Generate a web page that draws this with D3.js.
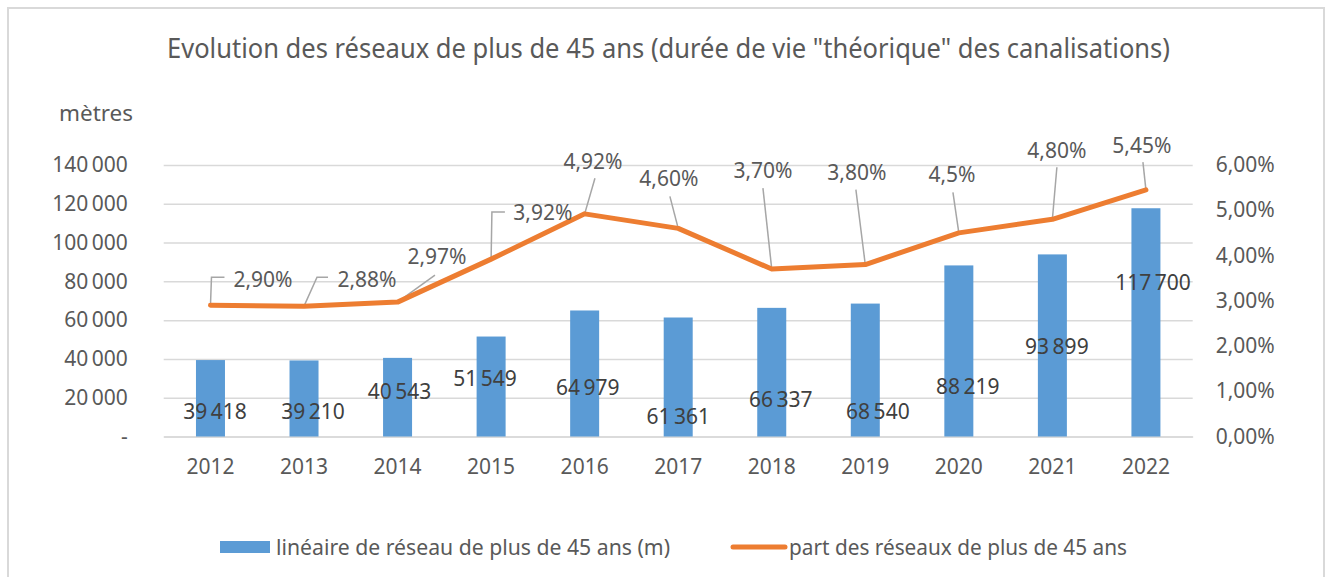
<!DOCTYPE html>
<html><head><meta charset="utf-8">
<script src="https://cdn.jsdelivr.net/npm/d3@7"></script>
<style>
html,body{margin:0;padding:0;background:#fff;}
text{font-family:"Noto Sans",sans-serif;fill:#595959;}
</style></head>
<body>
<svg id="chart" width="1332" height="577"></svg>
<script>
// ---- data ----
const title = "Evolution des réseaux de plus de 45 ans (durée de vie \"théorique\" des canalisations)";
const years = ["2012","2013","2014","2015","2016","2017","2018","2019","2020","2021","2022"];
const lengths = [39418, 39210, 40543, 51549, 64979, 61361, 66337, 68540, 88219, 93899, 117700];
const shares = [2.90, 2.88, 2.97, 3.92, 4.92, 4.60, 3.70, 3.80, 4.5, 4.80, 5.45];
const shareLabels = ["2,90%","2,88%","2,97%","3,92%","4,92%","4,60%","3,70%","3,80%","4,5%","4,80%","5,45%"];
const leftTicks = [0, 20000, 40000, 60000, 80000, 100000, 120000, 140000];
const rightTicks = [0, 1, 2, 3, 4, 5, 6];
const legendLabels = ["linéaire de réseau de plus de 45 ans (m)", "part des réseaux de plus de 45 ans"];
const yUnit = "mètres";

// ---- layout (label placement, px) ----
const barLabelNudge = [[4.5,-25],[9,-25],[2,-45],[-6,-58],[3,-49],[0,-20],[9,-37],[12.6,-25],[9,-50],[4.5,-90],[7,-154]];
const shareLabelNudge = [[52.5,-26],[63,-27],[39.4,-45],[51.8,-46],[8.3,-52.6],[-9.3,-50],[-8.8,-98],[-8.4,-92],[-6.9,-58.6],[4.5,-69],[-4,-44.7]];
const leaderEnd = [[1,-28,13],[13,-29,11],[37.4,-27,0],[0.8,-47,13],[10.3,-35.6,0],[-8.3,-32,0],[-8.8,-81,0],[-9.4,-75,0],[-5.9,-40.6,0],[4.5,-52,0],[-3,-27.7,0]];

(function(){
const svg = d3.select("#chart");
const pL = 163.7, pR = 1192.7, pT = 165, pB = 436.5;
const blue = "#5B9BD5", orange = "#ED7D31", grid = "#D9D9D9";
const FS = 21;

svg.append("rect").attr("x",8).attr("y",8).attr("width",1316).attr("height",620)
  .attr("fill","#fff").attr("stroke","#D9D9D9").attr("stroke-width",2);

const x = d3.scaleBand().domain(years).range([pL, pR]).paddingInner(0.69).paddingOuter(0.345);
const yL = d3.scaleLinear().domain([0,140000]).range([pB, pT]);
const yR = d3.scaleLinear().domain([0,6]).range([pB, pT]);
const cx = d => x(d) + x.bandwidth()/2;

function squeeze(sel, w){
  sel.attr("textLength", w).attr("lengthAdjust","spacingAndGlyphs");
}

// title
svg.append("text").attr("x",167).attr("y",57.5)
  .attr("font-size",27.5).text(title).call(squeeze, 1003);

svg.append("text").attr("x",59).attr("y",120.5)
  .attr("font-size",22).text(yUnit).call(squeeze, 74);

// left axis + gridlines
const fmtL = v => v === 0 ? "-" : d3.format(",")(v).replace(/,/g, "\u2009");
const gL = svg.append("g").attr("transform",`translate(${pL},0)`)
  .call(d3.axisLeft(yL).tickValues(leftTicks).tickSize(-(pR-pL)).tickPadding(36).tickFormat(fmtL));
gL.select(".domain").remove();
gL.selectAll(".tick line").attr("stroke",grid).attr("stroke-width",1.5);
gL.selectAll(".tick text").attr("font-size",FS).attr("font-family","Noto Sans").attr("fill","#595959");

// right axis
const fmtR = v => d3.format(".2f")(v).replace(".", ",") + "%";
const gR = svg.append("g").attr("transform",`translate(${pR},0)`)
  .call(d3.axisRight(yR).tickValues(rightTicks).tickSize(0).tickPadding(23).tickFormat(fmtR));
gR.select(".domain").remove();
gR.selectAll(".tick text").attr("font-size",FS).attr("font-family","Noto Sans").attr("fill","#595959");

// x axis
const gX = svg.append("g").attr("transform",`translate(0,${pB})`)
  .call(d3.axisBottom(x).tickSize(0).tickPadding(23));
gX.select(".domain").attr("stroke",grid).attr("stroke-width",1.5);
gX.selectAll(".tick text").attr("font-size",FS).attr("font-family","Noto Sans").attr("fill","#595959");

// bars
svg.append("g").selectAll("rect").data(lengths).join("rect")
  .attr("x",(d,i)=>x(years[i])).attr("width",x.bandwidth())
  .attr("y",d=>yL(d)).attr("height",d=>pB-yL(d)).attr("fill",blue);

// bar labels
const fmtV = v => d3.format(",")(v).replace(/,/g, "\u2009");
svg.append("g").selectAll("text").data(lengths).join("text")
  .attr("x",(d,i)=>cx(years[i]) + barLabelNudge[i][0])
  .attr("y",(d,i)=>pB + barLabelNudge[i][1])
  .attr("dy","0.35em").attr("text-anchor","middle").attr("font-size",FS).style("fill","#404040")
  .text(fmtV);

// leader lines
svg.append("g").selectAll("path").data(shares).join("path")
  .attr("d",(d,i)=>{
    const px = cx(years[i]), py = yR(d), e = leaderEnd[i];
    const ex = px + e[0], ey = py + e[1];
    return `M${px},${py}L${ex},${ey}` + (e[2] ? `L${ex+e[2]},${ey}` : "");
  })
  .attr("fill","none").attr("stroke","#A6A6A6").attr("stroke-width",1.5);

// line
svg.append("path").datum(shares)
  .attr("d", d3.line().x((d,i)=>cx(years[i])).y(d=>yR(d)))
  .attr("fill","none").attr("stroke",orange).attr("stroke-width",5)
  .attr("stroke-linejoin","round").attr("stroke-linecap","round");

// share labels
svg.append("g").selectAll("text").data(shares).join("text")
  .attr("x",(d,i)=>cx(years[i]) + shareLabelNudge[i][0])
  .attr("y",(d,i)=>yR(d) + shareLabelNudge[i][1])
  .attr("dy","0.35em").attr("text-anchor","middle").attr("font-size",FS)
  .text((d,i)=>shareLabels[i]);

// legend
const lg = svg.append("g");
lg.append("rect").attr("x",220).attr("y",541).attr("width",50).attr("height",12).attr("fill",blue);
lg.append("text").attr("x",276).attr("y",554.5).attr("font-size",22)
  .text(legendLabels[0]).call(squeeze, 394);
lg.append("line").attr("x1",733).attr("x2",785).attr("y1",547).attr("y2",547)
  .attr("stroke",orange).attr("stroke-width",5).attr("stroke-linecap","round");
lg.append("text").attr("x",789).attr("y",554.5).attr("font-size",22)
  .text(legendLabels[1]).call(squeeze, 338);
})();
</script>
</body></html>
